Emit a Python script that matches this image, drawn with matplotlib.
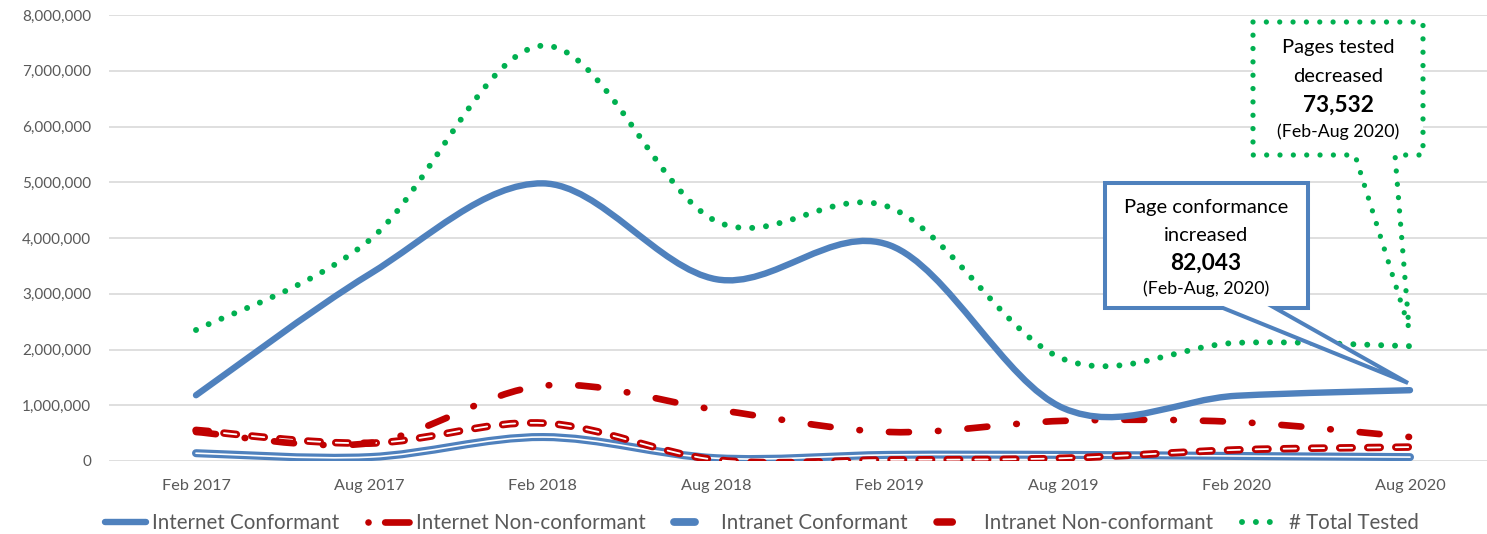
import matplotlib
matplotlib.use('Agg')
import matplotlib.pyplot as plt
from matplotlib.path import Path
from matplotlib.patches import PathPatch, Polygon
from matplotlib.lines import Line2D
from matplotlib.legend_handler import HandlerTuple
from matplotlib.ticker import FuncFormatter, MultipleLocator

plt.rcParams['font.family'] = ['Lato', 'DejaVu Sans']
plt.rcParams['lines.scale_dashes'] = False

# ---------------- data ----------------
categories = ['Feb 2017', 'Aug 2017', 'Feb 2018', 'Aug 2018',
              'Feb 2019', 'Aug 2019', 'Feb 2020', 'Aug 2020']
internet_conformant = [1180000, 3350000, 4980000, 3260000, 3870000, 950000, 1170000, 1270000]
internet_nonconformant = [520000, 320000, 1350000, 920000, 520000, 720000, 700000, 430000]
intranet_conformant = [140000, 70000, 430000, 50000, 110000, 110000, 90000, 70000]
intranet_nonconformant = [550000, 320000, 680000, 20000, 20000, 50000, 200000, 250000]
total_tested = [2350000, 3960000, 7450000, 4300000, 4550000, 1830000, 2120000, 2060000]
series_labels = ['Internet Conformant', 'Internet Non-conformant', 'Intranet Conformant',
                 'Intranet Non-conformant', '# Total Tested']
callout_conf = ['Page conformance', 'increased', '82,043', '(Feb-Aug, 2020)']
callout_tested = ['Pages tested', 'decreased', '73,532', '(Feb-Aug 2020)']

BLUE = '#4F81BD'
RED = '#C00000'
GREEN = '#00B050'
GRID = '#D9D9D9'
TXT = '#595959'

W, H = 1487, 534
fig = plt.figure(figsize=(W / 100, H / 100), dpi=100)
ax = fig.add_axes([109.3 / W, 73 / H, 1387.4 / W, 446 / H])
ax.set_xlim(-0.5, len(categories) - 0.5)
ax.set_ylim(0, 8000000)


def smooth_path(ys):
    xs = list(range(len(ys)))
    pts = list(zip(xs, ys))
    n = len(pts)
    verts = [pts[0]]
    codes = [Path.MOVETO]
    for i in range(n - 1):
        p0 = pts[max(i - 1, 0)]
        p1 = pts[i]
        p2 = pts[i + 1]
        p3 = pts[min(i + 2, n - 1)]
        c1 = (p1[0] + (p2[0] - p0[0]) / 6, p1[1] + (p2[1] - p0[1]) / 6)
        c2 = (p2[0] - (p3[0] - p1[0]) / 6, p2[1] - (p3[1] - p1[1]) / 6)
        verts += [c1, c2, p2]
        codes += [Path.CURVE4] * 3
    return Path(verts, codes)


def add_curve(ys, color, lw, ls='-', z=3):
    p = PathPatch(smooth_path(ys), fill=False, edgecolor=color, linewidth=lw,
                  linestyle=ls, capstyle='round', joinstyle='round', zorder=z)
    ax.add_patch(p)


dash_dot = (0, (14.4, 20.9, 0.4, 20.9))
int_dash = (0, (9.0, 11.2))
dots = (0, (0.01, 10.0))

add_curve(intranet_conformant, BLUE, 5.8, z=3)
add_curve(intranet_conformant, 'white', 1.2, z=3.1)
add_curve(intranet_nonconformant, RED, 5.4, int_dash, z=3.2)
add_curve(intranet_nonconformant, 'white', 1.3, int_dash, z=3.3)
add_curve(internet_nonconformant, RED, 4.8, dash_dot, z=3.4)
add_curve(internet_conformant, BLUE, 4.6, z=3.5)
add_curve(total_tested, GREEN, 4.3, dots, z=3.6)

# axes styling
ax.set_xticks(range(len(categories)))
ax.set_xticklabels(categories)
ax.yaxis.set_major_locator(MultipleLocator(1000000))
ax.yaxis.set_major_formatter(FuncFormatter(lambda v, p: f'{int(v):,}'))
ax.grid(axis='y', color=GRID, linewidth=1.2)
ax.set_axisbelow(True)
for s in ax.spines.values():
    s.set_visible(False)
ax.tick_params(axis='both', length=0, labelcolor=TXT)
ax.tick_params(axis='x', pad=13, labelsize=11.7)
ax.tick_params(axis='y', pad=13, labelsize=11.0)


def fx(x, y):
    return (x / W, 1 - y / H)


# callout: page conformance
conf_poly = [(1105, 183), (1308, 183), (1308, 308), (1275, 308), (1408, 383),
             (1223, 308), (1105, 308)]
fig.add_artist(Polygon([fx(*p) for p in conf_poly], closed=True, transform=fig.transFigure,
                       facecolor='white', edgecolor=BLUE, linewidth=2.9,
                       joinstyle='miter', zorder=5))
conf_y = [207, 235, 263, 289]
conf_sizes = [14.5, 14.5, 16.3, 12.8]
conf_weights = ['normal', 'normal', 'bold', 'normal']
for t, yy, s, w in zip(callout_conf, conf_y, conf_sizes, conf_weights):
    fig.text(*fx(1206, yy), t, ha='center', va='center', fontsize=s, fontweight=w,
             color='black', zorder=6)

# callout: pages tested
test_poly = [(1253, 22), (1423, 22), (1423, 155), (1395, 155), (1409, 328),
             (1355, 155), (1253, 155)]
fig.add_artist(Polygon([fx(*p) for p in test_poly], closed=True, transform=fig.transFigure,
                       facecolor='white', edgecolor=GREEN, linewidth=3.8,
                       linestyle=(0, (0.01, 9.6)), capstyle='round', joinstyle='round',
                       zorder=5))
test_y = [48, 76, 105, 132]
for t, yy, s, w in zip(callout_tested, test_y, conf_sizes, conf_weights):
    fig.text(*fx(1338, yy), t, ha='center', va='center', fontsize=s, fontweight=w,
             color='black', zorder=6)

# legend
LEG_FS = 14.8
HL = 2.0
L = LEG_FS * HL
h1 = Line2D([], [], color=BLUE, lw=4.6, solid_capstyle='round')
h2 = Line2D([], [], color=RED, lw=4.8, linestyle=(0, (0.01, 12, L - 12, 100)),
            dash_capstyle='round')
h3 = (Line2D([], [], color=BLUE, lw=5.6, solid_capstyle='round'),
      Line2D([], [], color='white', lw=1.3, linestyle=(L - 3, (L - 6, 6)),
             dash_capstyle='butt'))
nc_pat = (0, (11, 9, 4, 100))
h4 = (Line2D([], [], color=RED, lw=5.4, linestyle=nc_pat, dash_capstyle='round'),
      Line2D([], [], color='white', lw=1.3, linestyle=nc_pat, dash_capstyle='round'))
h5 = Line2D([], [], color=GREEN, lw=4.3, linestyle=dots, dash_capstyle='round')
fig.legend([h1, h2, h3, h4, h5], series_labels, loc='center',
           bbox_to_anchor=fx(762, 523), ncol=5, frameon=False, fontsize=LEG_FS,
           labelcolor=TXT, handlelength=HL, handletextpad=0.3, columnspacing=1.4,
           handler_map={tuple: HandlerTuple(ndivide=None, pad=0)})

fig.savefig('out.png', dpi=100)
